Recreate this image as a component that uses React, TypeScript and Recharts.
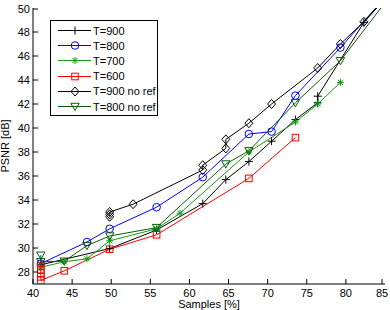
import React from 'react';
import { LineChart, Line, XAxis, YAxis, Legend } from 'recharts';

// x = samples [%], y = PSNR [dB]
const xTicks = [40, 45, 50, 55, 60, 65, 70, 75, 80, 85];
const yTicks = [28, 30, 32, 34, 36, 38, 40, 42, 44, 46, 48, 50];

const t900: [number, number][] = [
  [41, 28.6], [49.8, 29.95], [55.8, 31.5], [61.7, 33.7], [64.65, 35.7], [67.6, 37.2],
  [70.5, 38.9], [73.55, 40.7], [76.4, 42.1], [76.4, 42.65], [82.3, 48.8], [86, 51.5],
];
const t800: [number, number][] = [
  [41, 28.7], [46.9, 30.5], [49.8, 31.6], [55.8, 33.4], [61.7, 35.9], [67.6, 39.5],
  [70.5, 39.7], [73.55, 42.7], [79.3, 46.7], [86, 51.6],
];
const t700: [number, number][] = [
  [41, 28.4], [44, 28.85], [46.9, 29.1], [49.8, 30.6], [55.8, 31.6], [58.8, 32.9],
  [67.6, 38.0], [73.55, 40.5], [76.4, 42.0], [79.3, 43.8],
];
const t600: [number, number][] = [
  [41, 28.5], [41, 28.2], [41, 27.9], [41, 27.6], [41, 27.3], [44, 28.1],
  [49.8, 29.9], [55.8, 31.1], [67.6, 35.8], [73.55, 39.2],
];
const t900NoRef: [number, number][] = [
  [49.8, 32.6], [49.8, 32.8], [49.8, 33.0], [52.8, 33.65], [61.7, 36.5], [61.7, 36.9],
  [64.65, 38.3], [64.65, 39.05], [67.6, 40.4], [70.5, 42.0], [76.4, 45.0], [79.3, 47.0],
  [82.3, 48.85], [86, 51.5],
];
const t800NoRef: [number, number][] = [
  [41, 29.4], [41, 28.85], [44, 28.9], [46.9, 30.2], [49.8, 31.0], [55.8, 31.7],
  [64.65, 37.0], [67.6, 38.1], [73.55, 42.1], [79.3, 45.6], [86, 51.3],
];

type MarkerKind = 'plus' | 'circle' | 'star' | 'square' | 'diamond' | 'triangle';

const series: { name: string; color: string; marker: MarkerKind; points: [number, number][] }[] = [
  { name: 'T=900', color: '#000000', marker: 'plus', points: t900 },
  { name: 'T=800', color: '#0000ff', marker: 'circle', points: t800 },
  { name: 'T=700', color: '#109c10', marker: 'star', points: t700 },
  { name: 'T=600', color: '#ff0000', marker: 'square', points: t600 },
  { name: 'T=900 no ref', color: '#000000', marker: 'diamond', points: t900NoRef },
  { name: 'T=800 no ref', color: '#0a5a0a', marker: 'triangle', points: t800NoRef },
];

const Marker = ({ kind, cx, cy, color }: { kind: MarkerKind; cx: number; cy: number; color: string }) => {
  const s = { stroke: color, strokeWidth: 1, fill: 'none' };
  switch (kind) {
    case 'plus':
      return (
        <g {...s}>
          <line x1={cx - 4} x2={cx + 4} y1={cy} y2={cy} />
          <line x1={cx} x2={cx} y1={cy - 4} y2={cy + 4} />
        </g>
      );
    case 'circle':
      return <circle cx={cx} cy={cy} r={3.8} {...s} />;
    case 'star':
      return (
        <g {...s}>
          <line x1={cx - 3.5} x2={cx + 3.5} y1={cy} y2={cy} />
          <line x1={cx} x2={cx} y1={cy - 3.5} y2={cy + 3.5} />
          <line x1={cx - 2.6} x2={cx + 2.6} y1={cy - 2.6} y2={cy + 2.6} />
          <line x1={cx - 2.6} x2={cx + 2.6} y1={cy + 2.6} y2={cy - 2.6} />
        </g>
      );
    case 'square':
      return <rect x={cx - 3.3} y={cy - 3.3} width={6.6} height={6.6} {...s} />;
    case 'diamond':
      return <polygon points={`${cx},${cy - 4.5} ${cx + 4},${cy} ${cx},${cy + 4.5} ${cx - 4},${cy}`} {...s} />;
    case 'triangle':
      return <polygon points={`${cx - 4.2},${cy - 3.2} ${cx + 4.2},${cy - 3.2} ${cx},${cy + 4}`} {...s} />;
  }
};

const font = '"Liberation Sans", Arial, sans-serif';

// inward-pointing ticks on all four sides of the box
const BottomTick = ({ x, y, payload }: any) => (
  <g>
    <line x1={x} x2={x} y1={y} y2={y - 5} stroke="#000" />
    <text x={x} y={y + 13} textAnchor="middle" fontSize={11} fontFamily={font} fill="#000">{payload.value}</text>
  </g>
);
const TopTick = ({ x, y }: any) => <line x1={x} x2={x} y1={y} y2={y + 5} stroke="#000" />;
const LeftTick = ({ x, y, payload }: any) => (
  <g>
    <line x1={x} x2={x + 5} y1={y} y2={y} stroke="#000" />
    <text x={x - 3} y={y} dy="0.35em" textAnchor="end" fontSize={11} fontFamily={font} fill="#000">{payload.value}</text>
  </g>
);
const RightTick = ({ x, y }: any) => <line x1={x} x2={x - 5} y1={y} y2={y} stroke="#000" />;

const LegendBox = () => (
  <div style={{ border: '1px solid #000', background: '#fff', padding: '2px 0 1px 0', fontFamily: font, fontSize: 11 }}>
    {series.map((s) => (
      <div key={s.name} style={{ display: 'flex', alignItems: 'center', height: 15.2 }}>
        <svg width={41} height={15} style={{ display: 'block' }}>
          <line x1={7} x2={40} y1={7.5} y2={7.5} stroke={s.color} />
          <Marker kind={s.marker} cx={24} cy={7.5} color={s.color} />
        </svg>
        <span style={{ marginLeft: 1, whiteSpace: 'nowrap' }}>{s.name}</span>
      </div>
    ))}
  </div>
);

export default function App() {
  return (
    <div style={{ position: 'absolute', left: 0, top: 0 }}>
      <LineChart width={390} height={310} margin={{ top: 8, right: 5, left: 0, bottom: 0 }}>
        <XAxis
          xAxisId="b" dataKey="x" type="number" domain={[40, 85]} ticks={xTicks} allowDataOverflow
          height={26} tickSize={0} tickMargin={0} tick={<BottomTick />} axisLine={{ stroke: '#000' }}
          label={{
            content: ({ viewBox }: any) => (
              <text x={viewBox.x + viewBox.width / 2} y={viewBox.y + 24} textAnchor="middle" fontSize={11} fontFamily={font}>Samples [%]</text>
            ),
          }}
        />
        <XAxis
          xAxisId="t" orientation="top" dataKey="x" type="number" domain={[40, 85]} ticks={xTicks} allowDataOverflow
          height={0} tickSize={0} tickMargin={0} tick={<TopTick />} axisLine={{ stroke: '#000' }}
        />
        <YAxis
          yAxisId="l" type="number" domain={[27, 50]} ticks={yTicks} allowDataOverflow
          width={33} tickSize={0} tickMargin={0} tick={<LeftTick />} axisLine={{ stroke: '#000' }}
          label={{
            content: ({ viewBox }: any) => {
              const cx = viewBox.x + 9;
              const cy = viewBox.y + viewBox.height / 2;
              return (
                <text x={cx} y={cy} transform={`rotate(-90 ${cx} ${cy})`} textAnchor="middle" fontSize={11} fontFamily={font}>PSNR [dB]</text>
              );
            },
          }}
        />
        <YAxis
          yAxisId="r" orientation="right" type="number" domain={[27, 50]} ticks={yTicks} allowDataOverflow
          width={0} tickSize={0} tickMargin={0} tick={<RightTick />} axisLine={{ stroke: '#000' }}
        />
        {series.map((s) => (
          <Line
            key={s.name}
            xAxisId="b"
            yAxisId="l"
            name={s.name}
            data={s.points.map(([x, y]) => ({ x, y }))}
            dataKey="y"
            stroke={s.color}
            strokeWidth={1}
            isAnimationActive={false}
            dot={(p: any) => <Marker key={`${s.name}-${p.index}`} kind={s.marker} cx={p.cx} cy={p.cy} color={s.color} />}
            activeDot={false}
          />
        ))}
        <Legend
          layout="vertical" align="center" verticalAlign="middle"
          wrapperStyle={{ left: 50, top: 20, width: 108 }}
          content={() => <LegendBox />}
        />
      </LineChart>
    </div>
  );
}
